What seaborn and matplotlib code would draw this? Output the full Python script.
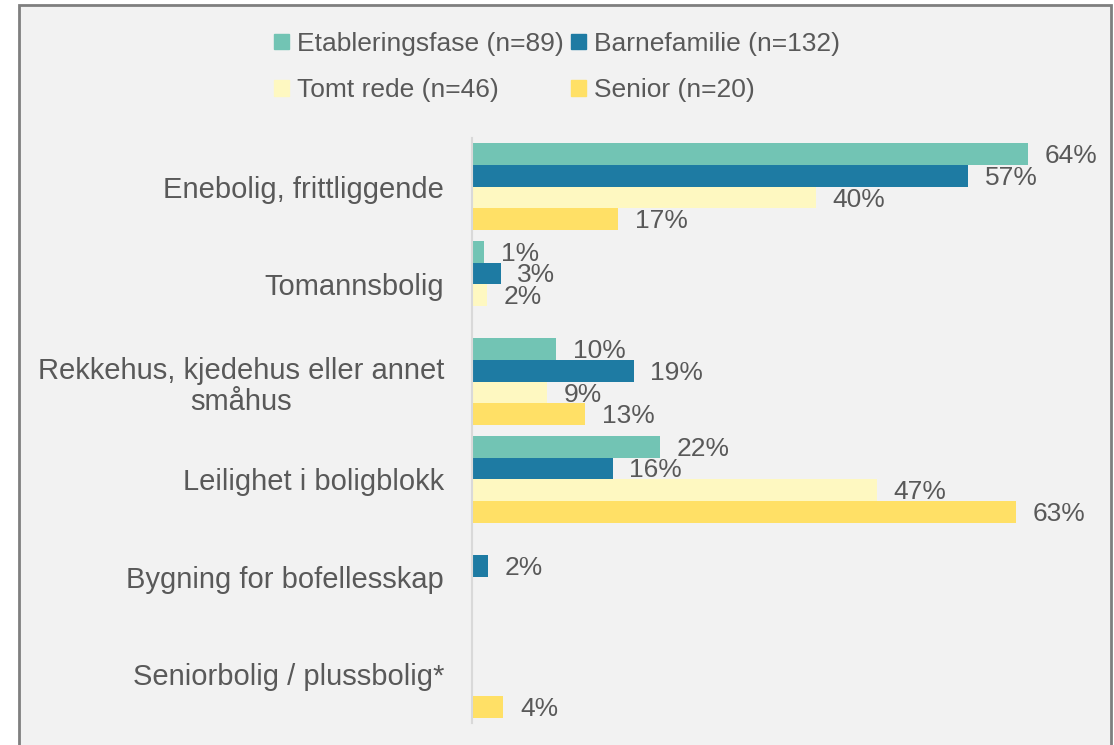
import matplotlib.pyplot as plt
import matplotlib.patches as mpatches
import pandas as pd
import seaborn as sns

# housing types (y axis) and life phase groups (hue)
categories = [
    "Enebolig, frittliggende",
    "Tomannsbolig",
    "Rekkehus, kjedehus eller annet\nsmåhus",
    "Leilighet i boligblokk",
    "Bygning for bofellesskap",
    "Seniorbolig / plussbolig*",
]
groups = ["Etableringsfase (n=89)", "Barnefamilie (n=132)", "Tomt rede (n=46)", "Senior (n=20)"]

etablering = [64.0, 1.4, 9.7, 21.6, 0, 0]
barnefamilie = [57.1, 3.3, 18.6, 16.2, 1.8, 0]
tomt_rede = [39.6, 1.7, 8.6, 46.6, 0, 0]
senior = [16.8, 0, 13.0, 62.6, 0, 3.6]

colors = ["#72C4B4", "#1E7BA3", "#FEF8C1", "#FFE066"]
text_color = "#595959"

rows = []
for g, vals in zip(groups, [etablering, barnefamilie, tomt_rede, senior]):
    for c, v in zip(categories, vals):
        rows.append({"kategori": c, "gruppe": g, "andel": v})
df = pd.DataFrame(rows)

sns.set_style("white")
plt.rcParams["font.family"] = ["Liberation Sans", "DejaVu Sans"]

W, H = 1114, 745
fig = plt.figure(figsize=(W / 100, H / 100), dpi=100)
fig.patch.set_facecolor("white")
# grey chart area with border, like the Excel frame
frame = mpatches.Rectangle((19 / W, -0.05), (1111 - 19) / W, 1.05 - 5 / H,
                           transform=fig.transFigure, facecolor="#F2F2F2",
                           edgecolor="#7F7F7F", linewidth=2, zorder=-5)
fig.patches.append(frame)

ax_left, ax_right = 472 / W, 1090 / W
ax_top, ax_bottom = 1 - 138 / H, 1 - 723 / H
ax = fig.add_axes([ax_left, ax_bottom, ax_right - ax_left, ax_top - ax_bottom])
ax.set_facecolor("none")
ax.set_zorder(2)

sns.barplot(data=df, y="kategori", x="andel", hue="gruppe", orient="h",
            palette=colors, width=0.89, linewidth=0, saturation=1,
            legend=False, ax=ax)

px_per_pct = 8.69
ax.set_xlim(0, (1090 - 472) / px_per_pct)
ax.set_ylim(len(categories) - 0.5, -0.5)

# value labels
for cont in ax.containers:
    for bar in cont:
        w = bar.get_width()
        if w <= 0:
            continue
        y = bar.get_y() + bar.get_height() / 2
        ax.annotate(f"{w:.0f}%", (w, y), xytext=(12, -1.5), textcoords="offset points",
                    ha="left", va="center", fontsize=19, color=text_color,
                    annotation_clip=False)

for s in ["top", "right", "bottom"]:
    ax.spines[s].set_visible(False)
ax.spines["left"].set_color("#D9D9D9")
ax.spines["left"].set_linewidth(1.5)
ax.set_xticks([])
ax.set_xlabel("")
ax.set_ylabel("")
ax.tick_params(axis="y", length=0, pad=20)
for lbl in ax.get_yticklabels():
    lbl.set_fontsize(21)
    lbl.set_color(text_color)
    lbl.set_multialignment("center")
    lbl.set_linespacing(1.15)

# legend fills by column, so order handles to read row-wise
order = [0, 2, 1, 3]
handles = [mpatches.Patch(color=colors[i]) for i in order]
labels = [groups[i] for i in order]
leg = fig.legend(handles, labels, loc="center", bbox_to_anchor=(557 / W, 1 - 67 / H),
                 ncol=2, frameon=False, fontsize=19, handlelength=0.55, handleheight=0.55,
                 handletextpad=0.3, columnspacing=0.3, labelspacing=0.85)
for t in leg.get_texts():
    t.set_color(text_color)

plt.savefig("out.png", dpi=100, facecolor=fig.get_facecolor())
